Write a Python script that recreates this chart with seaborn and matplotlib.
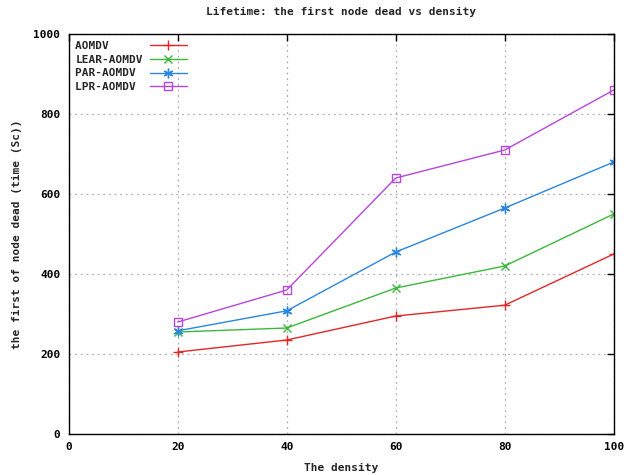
import numpy as np
import pandas as pd
import matplotlib
matplotlib.use("Agg")
import matplotlib.pyplot as plt
import seaborn as sns

# data
density = [20, 40, 60, 80, 100]
aomdv = [205, 235, 295, 322, 450]
lear_aomdv = [255, 265, 365, 420, 550]
par_aomdv = [258, 308, 455, 565, 680]
lpr_aomdv = [280, 360, 640, 710, 860]

series = ["AOMDV", "LEAR-AOMDV", "PAR-AOMDV", "LPR-AOMDV"]
values = [aomdv, lear_aomdv, par_aomdv, lpr_aomdv]
colors = ["#e02828", "#3cb83c", "#2a86e0", "#b646dc"]
markers = ["+", "x", (6, 2, 0), "s"]
msizes = [7, 6, 7, 5.5]

df = pd.DataFrame({
    "density": density * len(series),
    "time": np.concatenate(values),
    "protocol": np.repeat(series, len(density)),
})

sns.set_style("white")
plt.rcParams["font.family"] = ["DejaVu Sans Mono"]
plt.rcParams["font.weight"] = "bold"
plt.rcParams["font.size"] = 8

fig = plt.figure(figsize=(6.25, 4.75), dpi=100)
ax = fig.add_axes([0.110, 0.0863, 0.872, 0.8421])

# monospace font, so padding the labels keeps them left aligned
width = max(len(s) for s in series)
for name, col, mk, ms in zip(series, colors, markers, msizes):
    sns.lineplot(data=df[df["protocol"] == name], x="density", y="time",
                 color=col, marker=mk, markersize=ms, markeredgecolor=col,
                 markerfacecolor="none", markeredgewidth=1.0, linewidth=1.0,
                 label=name.ljust(width), ax=ax, errorbar=None)

ax.set_xlim(0, 100)
ax.set_ylim(0, 1000)
ax.set_xticks(np.arange(0, 101, 20))
ax.set_yticks(np.arange(0, 1001, 200))
ax.grid(True, color="#b0b0b0", linestyle=(0, (1.5, 3)), linewidth=0.9)
ax.tick_params(direction="in", length=5, width=1, top=True, right=True,
               labelsize=8, pad=6, colors="black")
for sp in ax.spines.values():
    sp.set_color("black")
    sp.set_linewidth(1.0)

ax.set_title("Lifetime: the first node dead vs density", fontsize=8,
             fontweight="bold", pad=14)
ax.set_xlabel("The density", fontsize=8, fontweight="bold", labelpad=8)
ax.set_ylabel("the first of node dead (time (Sc))", fontsize=8,
              fontweight="bold", labelpad=8)

ax.legend(loc="upper left", markerfirst=False, frameon=False,
          handlelength=3.4, handletextpad=0.6, labelspacing=0.35,
          borderaxespad=0.2, prop={"family": "DejaVu Sans Mono",
                                   "weight": "bold", "size": 8})

fig.savefig("out.png", dpi=100)
